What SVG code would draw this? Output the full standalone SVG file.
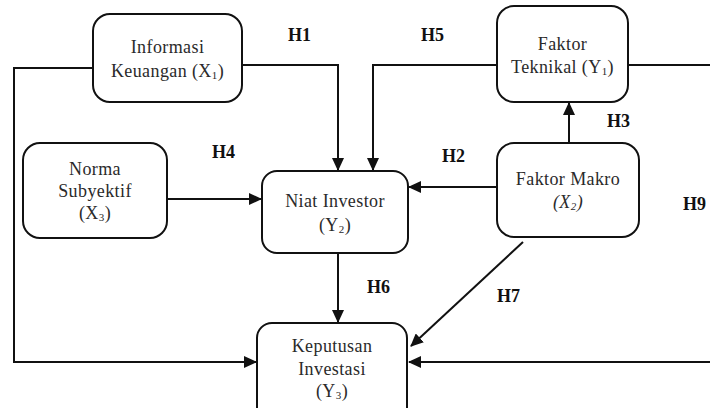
<svg xmlns="http://www.w3.org/2000/svg" width="710" height="408" viewBox="0 0 710 408">
<defs>
<marker id="ah" markerUnits="userSpaceOnUse" markerWidth="13" markerHeight="12" refX="12" refY="6" orient="auto">
<path d="M0,0 L13,6 L0,12 z" fill="#111"/>
</marker>
<style>
.box{fill:#fff;stroke:#111;stroke-width:2}
.t{font-family:"Liberation Serif","Times New Roman",serif;font-size:18px;fill:#2a2a2a;text-anchor:middle;letter-spacing:0.4px}
.s{font-size:11px}
.h{font-family:"Liberation Serif","Times New Roman",serif;font-size:18px;font-weight:bold;fill:#111}
.c{fill:none;stroke:#111;stroke-width:2;marker-end:url(#ah)}
</style>
</defs>
<rect width="710" height="408" fill="#fff"/>
<g id="connectors">
<path class="c" d="M93,68 H14 V362 H256"/>
<path class="c" d="M242,65 H338 V170"/>
<path class="c" d="M497,65 H373 V170"/>
<path class="c" d="M628,65 H716 V362 H409"/>
<path class="c" d="M569,143 V103"/>
<path class="c" d="M497,187 H409"/>
<path class="c" d="M167,199 H261"/>
<path class="c" d="M338,253 V322"/>
<path class="c" d="M523,242 L411,346"/>
</g>
<g id="informasi">
<rect class="box" x="93" y="14" width="149" height="88" rx="17"/>
<text class="t" x="167.5" y="53">Informasi</text>
<text class="t" x="167.5" y="77">Keuangan (X<tspan class="s" dy="2">1</tspan><tspan dy="-2">)</tspan></text>
</g>
<g id="teknikal">
<rect class="box" x="497" y="6" width="131" height="96" rx="17"/>
<text class="t" x="562.5" y="50">Faktor</text>
<text class="t" x="562.5" y="73">Teknikal (Y<tspan class="s" dy="2">1</tspan><tspan dy="-2">)</tspan></text>
</g>
<g id="norma">
<rect class="box" x="23" y="143" width="144" height="95" rx="17"/>
<text class="t" x="95" y="175">Norma</text>
<text class="t" x="95" y="197">Subyektif</text>
<text class="t" x="95" y="219">(X<tspan class="s" dy="2">3</tspan><tspan dy="-2">)</tspan></text>
</g>
<g id="niat">
<rect class="box" x="262" y="171" width="146" height="82" rx="15"/>
<text class="t" x="335" y="207">Niat Investor</text>
<text class="t" x="335" y="231">(Y<tspan class="s" dy="2">2</tspan><tspan dy="-2">)</tspan></text>
</g>
<g id="makro">
<rect class="box" x="497" y="143" width="142" height="94" rx="17"/>
<text class="t" x="568" y="185">Faktor Makro</text>
<text class="t" x="568" y="208" font-style="italic">(X<tspan class="s" dy="2">2</tspan><tspan dy="-2">)</tspan></text>
</g>
<g id="keputusan">
<rect class="box" x="257" y="323" width="150" height="100" rx="15"/>
<text class="t" x="332" y="352">Keputusan</text>
<text class="t" x="332" y="375">Investasi</text>
<text class="t" x="332" y="397">(Y<tspan class="s" dy="2">3</tspan><tspan dy="-2">)</tspan></text>
</g>
<g id="labels">
<text class="h" x="288" y="41">H1</text>
<text class="h" x="421" y="41">H5</text>
<text class="h" x="212" y="158">H4</text>
<text class="h" x="442" y="162">H2</text>
<text class="h" x="607" y="127">H3</text>
<text class="h" x="683" y="210">H9</text>
<text class="h" x="367" y="293">H6</text>
<text class="h" x="497" y="302">H7</text>
</g>
</svg>
